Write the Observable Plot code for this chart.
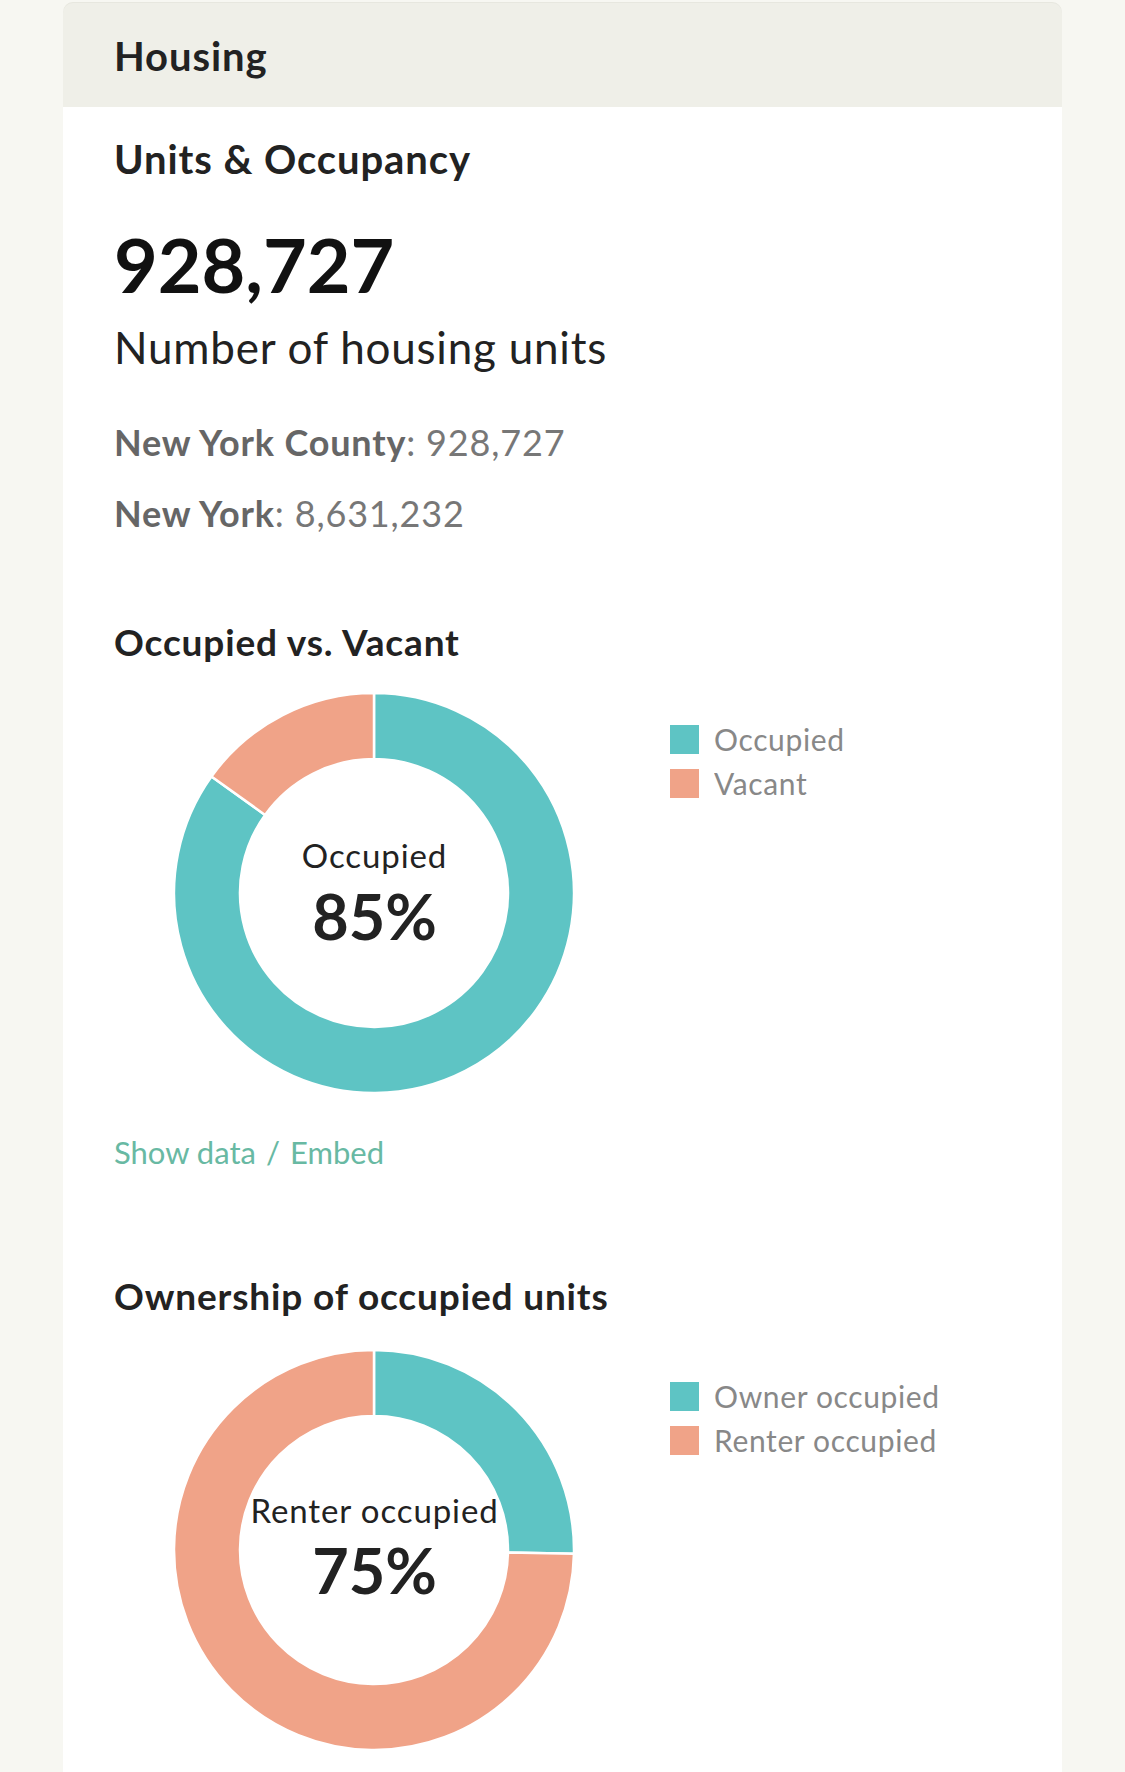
<!DOCTYPE html>
<html>
<head>
<meta charset="utf-8">
<script src="https://cdn.jsdelivr.net/npm/d3@7"></script>
<script src="https://cdn.jsdelivr.net/npm/@observablehq/plot@0.6"></script>
<style>
  html, body { margin: 0; padding: 0; }
  body { width: 1125px; height: 1772px; background: #f7f7f2; position: relative; overflow: hidden; font-family: Lato, "Noto Sans", sans-serif; }
  #card { position: absolute; left: 63px; top: 2px; width: 999px; height: 1800px; background: #fff; border-radius: 10px 10px 0 0; }
  #head { position: absolute; left: 0; top: 0; width: 999px; height: 105px; background: #efefe8; border-radius: 10px 10px 0 0; box-shadow: inset 0 1px 0 #e7e7df; }
  .t { position: absolute; left: 114px; white-space: nowrap; line-height: 1.2; margin: 0; letter-spacing: 0.023em; }
  .t.big { letter-spacing: 0; }
  .t.links { letter-spacing: 0; }
  .t.sub { letter-spacing: 0.0175em; }
  .chart { position: absolute; }
  .chart text { letter-spacing: 0.027em; }
  .chart text.pct, .chart .pct text { letter-spacing: 0; }
  .legend { position: absolute; left: 670px; }
  .legend .lg-swatches { font-family: Lato, sans-serif; font-size: 30px; color: #888; margin: 0; line-height: 36px; letter-spacing: 0.021em; }
  .legend .lg-swatch { padding-bottom: 8px; }
  .legend .lg-swatch > svg { margin-right: 15px; }
  .legend .lg-swatch-label { line-height: 36px; }
  .link { color: #68b9a3; }
</style>
</head>
<body>
<div id="card"><div id="head"></div></div>
<script>
// ---- data ----
const occupancyLabels = ["Occupied", "Vacant"];
const occupancyValues = [84.9, 15.1];
const ownershipLabels = ["Owner occupied", "Renter occupied"];
const ownershipValues = [25.3, 74.7];
const sliceColors = ["#5ec4c4", "#f0a388"];
const totalUnits = 928727;
const placeNames = ["New York County", "New York"];
const placeUnits = [928727, 8631232];

const fmt = d3.format(",");
const body = document.body;

// text helper: place by baseline
function addText(html, baseline, size, weight, color, cls) {
  const el = document.createElement("div");
  el.className = "t" + (cls ? " " + cls : "");
  el.innerHTML = html;
  el.style.fontSize = size + "px";
  el.style.fontWeight = weight;
  el.style.color = color;
  el.style.top = (baseline - 0.987 * size) + "px";
  body.appendChild(el);
  return el;
}

addText("Housing", 71, 40, 700, "#222");
addText("Units &amp; Occupancy", 174, 40, 700, "#222");
addText(fmt(totalUnits), 294, 75.5, 700, "#111", "big");
addText("Number of housing units", 364, 44, 400, "#222", "sub");
const placeBaselines = [457, 527.5];
placeNames.forEach((n, i) => {
  addText(`<span style="font-weight:700;color:#666">${n}</span><span style="color:#777">: ${fmt(placeUnits[i])}</span>`, placeBaselines[i], 36, 400, "#666");
});
addText("Occupied vs. Vacant", 656.5, 37, 700, "#222");
addText('<span class="link">Show data</span><span class="link" style="margin:0 10px">/</span><span class="link">Embed</span>', 1165, 31, 400, "#68b9a3", "links");
addText("Ownership of occupied units", 1311, 37, 700, "#222");

// ---- donut charts ----
function ringMark(labels, values, color, inner, outer) {
  return (index, scales, channels, dimensions) => {
    const w = dimensions && dimensions.width ? dimensions.width : 420;
    const h = dimensions && dimensions.height ? dimensions.height : 420;
    const arcs = d3.pie().sort(null).value(i => values[i])(d3.range(values.length));
    const arc = d3.arc().innerRadius(inner).outerRadius(outer);
    const g = d3.create("svg:g").attr("transform", `translate(${w / 2},${h / 2})`);
    g.selectAll("path").data(arcs).join("path")
      .attr("d", arc)
      .attr("fill", a => color.apply(labels[a.data]))
      .attr("stroke", "#fff")
      .attr("stroke-width", 2.5)
      .attr("stroke-linejoin", "round");
    return g.node();
  };
}

function donut(labels, values, cx, cy, labelDy, pctDy) {
  const colorOpts = {type: "ordinal", domain: labels, range: sliceColors};
  const color = Plot.scale({color: colorOpts});
  const total = d3.sum(values);
  const top = d3.maxIndex(values);
  const size = 420;
  const svg = Plot.plot({
    width: size,
    height: size,
    margin: 0,
    style: {background: "transparent", overflow: "visible"},
    marks: [
      ringMark(labels, values, color, 134, 200),
      Plot.text([labels[top]], {text: d => d, frameAnchor: "middle", lineAnchor: "bottom", dy: labelDy,
        fontSize: 33, fontFamily: "Lato", fill: "#222"}),
      Plot.text([Math.round(values[top] / total * 100) + "%"], {text: d => d, frameAnchor: "middle", lineAnchor: "bottom", dy: pctDy,
        fontSize: 63, fontWeight: 700, fontFamily: "Lato", fill: "#222", className: "pct"})
    ]
  });
  svg.querySelectorAll("text").forEach(t => {
    if (/%$/.test(t.textContent)) t.style.letterSpacing = "0";
  });
  const wrap = document.createElement("div");
  wrap.className = "chart";
  wrap.style.left = (cx - size / 2) + "px";
  wrap.style.top = (cy - size / 2) + "px";
  wrap.appendChild(svg);
  body.appendChild(wrap);

  const leg = Plot.legend({color: colorOpts, columns: 1, swatchSize: 29, className: "lg"});
  const lw = document.createElement("div");
  lw.className = "legend";
  lw.style.top = (cy - 199 + 27) + "px";
  lw.appendChild(leg);
  body.appendChild(lw);
}

donut(occupancyLabels, occupancyValues, 374, 893, -26, 46);
donut(ownershipLabels, ownershipValues, 374, 1550, -28, 43);
</script>
</body>
</html>
